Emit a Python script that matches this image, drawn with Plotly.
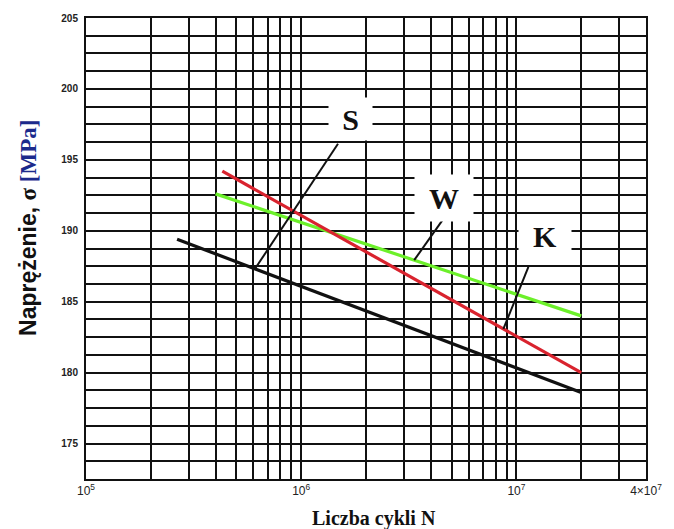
import numpy as np
import plotly.graph_objects as go

# Fatigue (Woehler) curves: number of cycles N vs. stress amplitude
curve_names = ["S", "W", "K"]
n_start = [2.65e5, 4.0e5, 4.3e5]
n_end = [2.0e7, 2.0e7, 2.0e7]
sigma_start = [189.4, 192.6, 194.2]
sigma_end = [178.6, 184.0, 180.0]
curve_colors = ["#111111", "#6cf02a", "#d9232e"]

# Where each label's leader line touches its curve (cycles)
pointer_n = [6.1e5, 3.35e6, 8.7e6]
# Label placement relative to the touch point (px, y upwards): label centre, leader tail
label_shift = [(95, 150), (30, 62), (42, 93)]
leader_tail = [(83, 125), (29, 41), (25, 62)]
label_box = [(41, 40), (56, 44), (50, 40)]

# Axis ticks and grid
y_ticks = [175, 180, 185, 190, 195, 200, 205]
y_grid = list(np.arange(172.5, 205.01, 1.25))
x_ticks = [1e5, 1e6, 1e7, 4e7]
x_tick_text = ["10<sup>5</sup>", "10<sup>6</sup>", "10<sup>7</sup>", "4×10<sup>7</sup>"]
x_grid = [m * 10 ** k for k in (5, 6) for m in range(1, 10)] + [1e7, 2e7, 3e7, 4e7]

GRID = "#111111"


def sigma_at(i, n):
    """Stress on curve i at n cycles (straight line in log N)."""
    t = (np.log10(n) - np.log10(n_start[i])) / (np.log10(n_end[i]) - np.log10(n_start[i]))
    return sigma_start[i] + t * (sigma_end[i] - sigma_start[i])


fig = go.Figure()
for i, name in enumerate(curve_names):
    fig.add_trace(go.Scatter(
        x=[n_start[i], n_end[i]], y=[sigma_start[i], sigma_end[i]],
        mode="lines", name=name, line=dict(color=curve_colors[i], width=3.2),
        showlegend=False, hoverinfo="skip",
    ))

annotations = []
shapes = []
for i, name in enumerate(curve_names):
    px, py = pointer_n[i], sigma_at(i, pointer_n[i])
    # leader line from the curve towards its label
    shapes.append(dict(
        type="line", xref="x", yref="y",
        xsizemode="pixel", ysizemode="pixel",
        xanchor=px, yanchor=py,
        x0=0, y0=0, x1=leader_tail[i][0], y1=leader_tail[i][1],
        line=dict(color="#111111", width=2),
    ))
    # curve label on a white patch
    annotations.append(dict(
        x=np.log10(px), y=py, xref="x", yref="y",
        xshift=label_shift[i][0], yshift=label_shift[i][1],
        text=f"<b>{name}</b>", showarrow=False,
        font=dict(family="Liberation Serif", size=30, color="#111111"),
        bgcolor="white", width=label_box[i][0], height=label_box[i][1],
        xanchor="center", yanchor="middle",
    ))

# Axis titles
annotations.append(dict(
    xref="paper", yref="paper", x=-0.104, y=0.544, textangle=-90,
    xanchor="center", yanchor="middle", showarrow=False,
    text=("<b>Naprężenie, </b><span style='font-family:Liberation Serif'><b>σ </b></span>"
          "<span style='font-family:Liberation Serif;color:#1c2a8c'><b>[MPa]</b></span>"),
    font=dict(family="Liberation Sans", size=23, color="#111111"),
))
annotations.append(dict(
    xref="paper", yref="paper", x=0.514, y=-0.0846,
    xanchor="center", yanchor="middle", showarrow=False,
    text="<b>Liczba cykli N</b>",
    font=dict(family="Liberation Serif", size=20, color="#111111"),
))

fig.update_layout(
    width=674, height=529,
    margin=dict(l=86, r=20, t=18, b=50),
    paper_bgcolor="white", plot_bgcolor="white",
    annotations=annotations,
    shapes=shapes,
    xaxis=dict(
        type="log", range=[5, np.log10(4e7)],
        tickvals=x_ticks, ticktext=x_tick_text, ticks="",
        showgrid=True, gridcolor=GRID, gridwidth=2,
        minor=dict(tickvals=x_grid, showgrid=True, gridcolor=GRID, gridwidth=2, ticks=""),
        showline=True, linecolor=GRID, linewidth=2, mirror=True,
        zeroline=False,
        tickfont=dict(family="Liberation Sans", size=12, color="#222222"),
    ),
    yaxis=dict(
        range=[172.5, 205], tickvals=y_ticks, ticks="",
        showgrid=True, gridcolor=GRID, gridwidth=2,
        minor=dict(tickvals=y_grid, showgrid=True, gridcolor=GRID, gridwidth=2, ticks=""),
        showline=True, linecolor=GRID, linewidth=2, mirror=True,
        zeroline=False, ticklabelstandoff=4,
        tickfont=dict(family="Liberation Sans", size=10, color="#222222", weight="bold"),
    ),
)

fig.write_html("out.html")
